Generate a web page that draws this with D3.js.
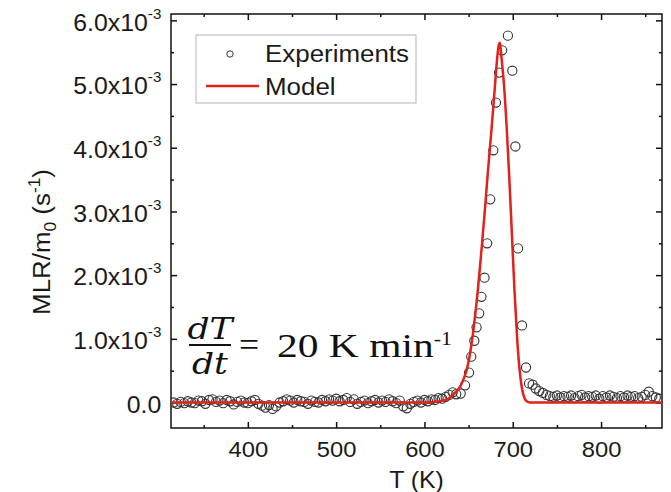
<!DOCTYPE html>
<html>
<head>
<meta charset="utf-8">
<script src="https://cdn.jsdelivr.net/npm/d3@7"></script>
<style>
  body { margin: 0; background: #fff; }
  svg text { font-family: "Liberation Sans", Arial, sans-serif; fill: #1a1a1a; }
  svg text.serif { font-family: "Liberation Serif", "Times New Roman", serif; fill: #111; }
  svg text.math { font-family: "DejaVu Serif", serif; font-style: italic; fill: #111; }
</style>
</head>
<body>
<svg class="svg_mlr" width="671" height="492"></svg>
<script>
// experiments: temperature (K) and MLR/m0 (x10^-3 s^-1)
var expT = [316,320,324,328,332,336,340,344,348,352,
            356,360,364,368,372,376,380,384,388,392,
            396,400,404,408,412,416,420,424,428,432,
            436,440,444,448,452,456,460,464,468,472,
            476,480,484,488,492,496,500,504,508,512,
            516,520,524,528,532,536,540,544,548,552,
            556,560,564,568,572,576,580,584,588,592,
            596,600,604,608,612,616,620,624,628,632,636,
            641,646,650.5,653,656.5,659,662,664.5,668,671,
            674.5,678,681,684.5,688,694.5,699.5,703,706,710.5,
            715,718.5,722.5,726,730,734,
            738,742,746,750,754,758,762,766,770,774,
            778,782,786,790,794,798,802,806,810,814,
            818,822,826,830,834,838,842,846,850,854,
            858,862,866];
var expV = [0.00,-0.02,0.01,-0.01,0.02,0.00,-0.01,0.03,0.02,-0.02,
            0.04,0.05,0.01,0.03,-0.01,0.04,0.02,-0.03,0.01,0.03,
            0.00,-0.01,0.02,0.04,-0.02,-0.05,-0.08,-0.04,-0.10,-0.06,
            0.00,0.02,0.05,0.03,0.00,0.04,0.02,0.01,-0.02,0.03,
            0.01,0.00,0.04,0.02,0.05,0.03,0.06,0.02,0.04,0.07,
            0.01,0.05,-0.02,0.01,0.03,-0.01,0.02,0.04,0.00,0.03,
            0.01,0.05,0.02,-0.01,0.03,-0.06,-0.09,-0.02,0.01,0.03,
            0.00,0.04,0.02,0.05,0.04,0.07,0.06,0.09,0.12,0.16,0.13,
            0.14,0.27,0.47,0.72,0.97,1.18,1.40,1.66,1.96,2.50,
            3.19,3.96,4.71,5.18,5.53,5.76,5.21,4.02,2.42,1.21,
            0.55,0.30,0.28,0.22,0.18,0.15,
            0.12,0.10,0.09,0.11,0.08,0.10,0.09,0.11,0.07,0.10,
            0.12,0.08,0.10,0.09,0.11,0.06,0.10,0.08,0.11,0.09,
            0.07,0.10,0.08,0.11,0.09,0.10,0.07,0.09,0.12,0.17,
            0.10,0.08,0.06];

// model curve
var modelT = [313,450,600,610,620,626,632,636,640,644,
              648,652,656,660,664,668,672,676,680,682,
              684,685.5,687,690,693,696,699,702,705,708,
              711,714,717,720,800,869];
var modelV = [0,0,0,0.01,0.03,0.05,0.12,0.17,0.24,0.36,
              0.52,0.80,1.20,1.70,2.30,2.95,3.65,4.30,5.00,5.35,
              5.60,5.65,5.45,5.00,4.35,3.55,2.65,1.75,1.00,0.48,
              0.18,0.05,0.01,0,0,0];

// ticks
var xMajor = [400,500,600,700,800];
var xMinor = [350,450,550,650,750,850];
var yMajor = [0,1,2,3,4,5,6];
var yMinor = [0.5,1.5,2.5,3.5,4.5,5.5];

var xDomain = [313, 869],
    yDomain = [-0.4, 6.1];

function drawMLR() {
    var svg = d3.select(".svg_mlr"),
        margin = {top: 14, right: 9, bottom: 64, left: 171},
        width = +svg.attr("width") - margin.left - margin.right,
        height = +svg.attr("height") - margin.top - margin.bottom,
        g = svg.append("g").attr("transform", "translate(" + margin.left + "," + margin.top + ")");

    var sx = 1.08; // text in the picture is a bit wide

    var x = d3.scaleLinear().domain(xDomain).range([0, width]),
        y = d3.scaleLinear().domain(yDomain).range([height, 0]);

    g.append("clipPath").attr("id", "clip")
      .append("rect").attr("width", width).attr("height", height);

    // axes, ticks pointing inward
    function ticks(axis, vals, size, tr) {
        var a = g.append("g").attr("transform", tr || null)
            .call(axis.tickValues(vals).tickSize(size).tickSizeOuter(0).tickFormat(""));
        a.select(".domain").remove();
        a.selectAll("line").attr("stroke", "#111").attr("stroke-width", 1.5);
        return a;
    }
    ticks(d3.axisBottom(x), xMinor, -3, "translate(0," + height + ")");
    ticks(d3.axisTop(x), xMajor, -6);
    ticks(d3.axisTop(x), xMinor, -3);
    ticks(d3.axisLeft(y), yMinor, -3);
    ticks(d3.axisRight(y), yMajor, -6, "translate(" + width + ",0)");
    ticks(d3.axisRight(y), yMinor, -3, "translate(" + width + ",0)");

    var xAxis = g.append("g")
        .attr("transform", "translate(0," + height + ")")
        .call(d3.axisBottom(x).tickValues(xMajor).tickSize(-6).tickSizeOuter(0).tickPadding(13));
    xAxis.select(".domain").remove();
    xAxis.selectAll("line").attr("stroke", "#111").attr("stroke-width", 1.5);
    xAxis.selectAll("text").attr("font-size", 22).attr("fill", "#1a1a1a")
        .attr("transform", "scale(" + sx + ",1)");

    var yAxis = g.append("g")
        .call(d3.axisLeft(y).tickValues(yMajor).tickSize(-6).tickSizeOuter(0).tickPadding(9));
    yAxis.select(".domain").remove();
    yAxis.selectAll("line").attr("stroke", "#111").attr("stroke-width", 1.5);
    yAxis.selectAll("text")
        .attr("font-size", 23).attr("fill", "#1a1a1a").attr("dy", "0.42em")
        .attr("transform", "scale(" + sx + ",1)")
        .each(function(d) {
            var t = d3.select(this).text("");
            if (d === 0) { t.text("0.0"); return; }
            t.append("tspan").text(d.toFixed(1) + "x10");
            t.append("tspan").attr("font-size", 14).attr("dy", -12).text("-3");
        });

    // frame
    g.append("rect")
        .attr("width", width).attr("height", height)
        .attr("fill", "none").attr("stroke", "#111").attr("stroke-width", 1.5);

    // experiments
    var pts = expT.map(function(t, i) { return {t: t, v: expV[i]}; });
    g.append("g").attr("clip-path", "url(#clip)")
      .selectAll("circle")
      .data(pts)
      .enter().append("circle")
        .attr("cx", function(d) { return x(d.t); })
        .attr("cy", function(d) { return y(d.v); })
        .attr("r", 4.6)
        .attr("fill", "none")
        .attr("stroke", "#333")
        .attr("stroke-width", 1.1);

    // model
    var line = d3.line()
        .x(function(d, i) { return x(modelT[i]); })
        .y(function(d) { return y(d); })
        .curve(d3.curveMonotoneX);
    g.append("path")
        .datum(modelV)
        .attr("clip-path", "url(#clip)")
        .attr("d", line)
        .attr("fill", "none")
        .attr("stroke", "#e2201c")
        .attr("stroke-width", 2.5);

    // axis titles
    svg.append("text")
        .attr("transform", "translate(" + (margin.left + width / 2) + ",488) scale(" + sx + ",1)")
        .attr("text-anchor", "middle")
        .attr("font-size", 23)
        .text("T (K)");

    var yl = svg.append("text")
        .attr("transform", "translate(50,242) rotate(-90) scale(" + sx + ",1)")
        .attr("text-anchor", "middle")
        .attr("font-size", 24);
    yl.append("tspan").text("MLR/m");
    yl.append("tspan").attr("font-size", 16).attr("dy", 6).text("0");
    yl.append("tspan").attr("dy", -6).text(" (s");
    yl.append("tspan").attr("font-size", 16).attr("dy", -10).text("-1");
    yl.append("tspan").attr("dy", 10).text(")");

    // legend
    var lg = svg.append("g");
    lg.append("rect")
        .attr("x", 196).attr("y", 35).attr("width", 220).attr("height", 68)
        .attr("fill", "#fff").attr("stroke", "#b5b5b5").attr("stroke-width", 1);
    lg.append("circle")
        .attr("cx", 230).attr("cy", 54).attr("r", 3.2)
        .attr("fill", "none").attr("stroke", "#333").attr("stroke-width", 1);
    lg.append("text")
        .attr("transform", "translate(265,62) scale(" + sx + ",1)")
        .attr("font-size", 24).text("Experiments");
    lg.append("line")
        .attr("x1", 206).attr("x2", 259).attr("y1", 86).attr("y2", 86)
        .attr("stroke", "#e2201c").attr("stroke-width", 2.5);
    lg.append("text")
        .attr("transform", "translate(265,95) scale(" + sx + ",1)")
        .attr("font-size", 24).text("Model");

    // heating rate
    var f = svg.append("g");
    f.append("text").attr("class", "math")
        .attr("transform", "translate(210,339) scale(1.15,1)")
        .attr("text-anchor", "middle")
        .attr("font-size", 30).text("dT");
    f.append("line")
        .attr("x1", 189).attr("x2", 231).attr("y1", 345).attr("y2", 345)
        .attr("stroke", "#111").attr("stroke-width", 2);
    f.append("text").attr("class", "math")
        .attr("transform", "translate(210,374) scale(1.15,1)")
        .attr("text-anchor", "middle")
        .attr("font-size", 30).text("dt");
    f.append("text").attr("class", "serif")
        .attr("transform", "translate(239,356) scale(1.05,1)")
        .attr("font-size", 34).text("=");
    var r = f.append("text").attr("class", "serif")
        .attr("transform", "translate(277,357) scale(1.22,1)")
        .attr("font-size", 34);
    r.append("tspan").text("20 K min");
    r.append("tspan").attr("font-size", 18).attr("dy", -12).text("-1");
}

drawMLR();
</script>
</body>
</html>
